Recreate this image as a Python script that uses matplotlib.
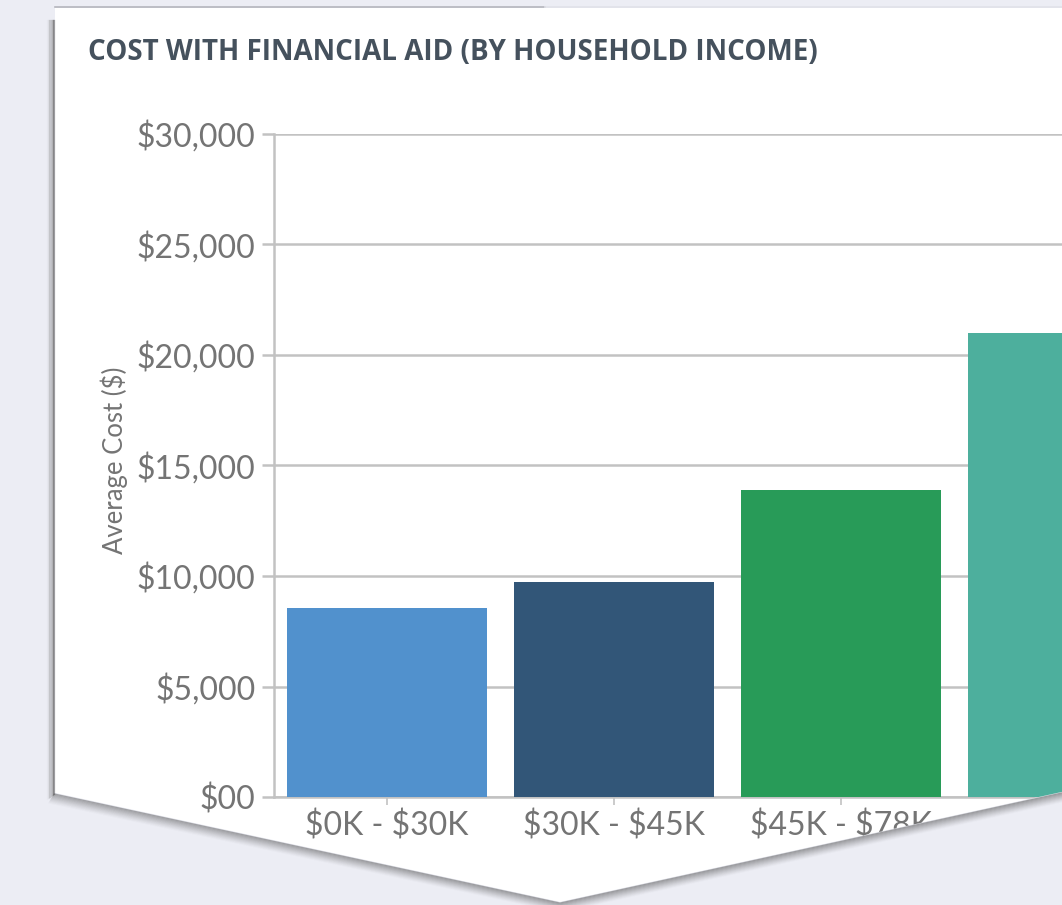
import numpy as np
import matplotlib
matplotlib.use('Agg')
import matplotlib.pyplot as plt
from matplotlib.patches import Polygon
from matplotlib.lines import Line2D

categories = ['$0K - $30K', '$30K - $45K', '$45K - $78K', '$78K - $110K']
avg_cost = [8540, 9730, 13890, 21010]
bar_colors = ['#5191CD', '#325678', '#289B58', '#4DAF9D']
yticks = [0, 5000, 10000, 15000, 20000, 25000, 30000]
ytick_labels = ['$00', '$5,000', '$10,000', '$15,000', '$20,000', '$25,000', '$30,000']

W, H = 1062, 905
BG = '#ECEDF4'
GRID = '#C2C2C2'
TXT = '#747474'


def fpt(x, y):
    # pixel (top-left origin) -> figure fraction
    return (x / W, 1 - y / H)


def esc(s):
    return s.replace('$', r'\$')


plt.rcParams['font.family'] = ['Lato', 'DejaVu Sans']

fig = plt.figure(figsize=(W / 100, H / 100), dpi=100, facecolor=BG)

# white card behind everything
card = Polygon([fpt(*p) for p in [(55, 8), (1080, 8), (1080, 791), (1066, 791),
                                  (560, 902), (55, 793)]],
               closed=True, transform=fig.transFigure, facecolor='white',
               edgecolor='none', zorder=-2)
fig.add_artist(card)

ax = fig.add_axes([274 / W, 1 - 797 / H, (1200 - 274) / W, (797 - 134) / H])
ax.patch.set_visible(False)

x = np.arange(len(categories))
ax.bar(x, avg_cost, width=0.88, color=bar_colors, zorder=3)

ax.set_xlim(-0.498, -0.498 + (1200 - 274) / 227)
ax.set_ylim(0, 30000)
ax.set_yticks(yticks)
ax.set_yticklabels([esc(s) for s in ytick_labels])
ax.set_xticks(x)
ax.set_xticklabels([esc(s) for s in categories])
# last label sits entirely under the chevron edge
ax.get_xticklabels()[-1].set_visible(False)

ax.yaxis.grid(True, color=GRID, linewidth=1.8, zorder=0)
ax.set_axisbelow(True)
for s in ['top', 'right']:
    ax.spines[s].set_visible(False)
for s in ['left', 'bottom']:
    ax.spines[s].set_color(GRID)
    ax.spines[s].set_linewidth(1.8)

ax.tick_params(axis='y', length=8.5, width=1.8, color=GRID, pad=5,
               labelsize=23, labelcolor=TXT)
ax.tick_params(axis='x', length=6, width=1.2, color=GRID, pad=4,
               labelsize=23, labelcolor=TXT)

fig.text(114 / W, 1 - 460 / H, 'Average Cost ($)', rotation=90, ha='center',
         va='center', fontsize=18.5, color=TXT)

fig.text(88 / W, 1 - 53 / H, 'COST WITH FINANCIAL AID (BY HOUSEHOLD INCOME)',
         ha='left', va='center', fontsize=20, fontweight='bold', color='#45515D',
         family=['Open Sans', 'DejaVu Sans'])

# chevron bottom of the card covers whatever falls outside it
cover = Polygon([fpt(*p) for p in [(0, 793), (55, 793), (560, 902), (1066, 791),
                                   (1100, 791), (1100, 960), (0, 960)]],
                closed=True, transform=fig.transFigure, facecolor=BG,
                edgecolor='none', zorder=10)
fig.add_artist(cover)

# drop shadow along the card edges
for k in range(1, 11):
    a = 0.5 * (1 - k / 11) ** 1.3
    pts = [fpt(55 - k * 0.6, 793 + k), fpt(560, 902 + k), fpt(1066, 791 + k)]
    fig.add_artist(Line2D([p[0] for p in pts], [p[1] for p in pts],
                          transform=fig.transFigure, color='#4A4A4A', alpha=a,
                          linewidth=0.9, zorder=11))
    p0, p1 = fpt(55 - k * 0.8, 20), fpt(55 - k * 0.8, 793 + k * 0.6)
    fig.add_artist(Line2D([p0[0], p1[0]], [p0[1], p1[1]], transform=fig.transFigure,
                          color='#4A4A4A', alpha=a, linewidth=0.9, zorder=11))

p0, p1 = fpt(55, 7.5), fpt(545, 7.5)
fig.add_artist(Line2D([p0[0], p1[0]], [p0[1], p1[1]], transform=fig.transFigure,
                      color='#B4B5BC', linewidth=1.2, zorder=11))
p0, p1 = fpt(545, 7.5), fpt(1062, 7.5)
fig.add_artist(Line2D([p0[0], p1[0]], [p0[1], p1[1]], transform=fig.transFigure,
                      color='#E0E1E8', linewidth=1.2, zorder=11))

fig.savefig('out.png', dpi=100, facecolor=BG)
